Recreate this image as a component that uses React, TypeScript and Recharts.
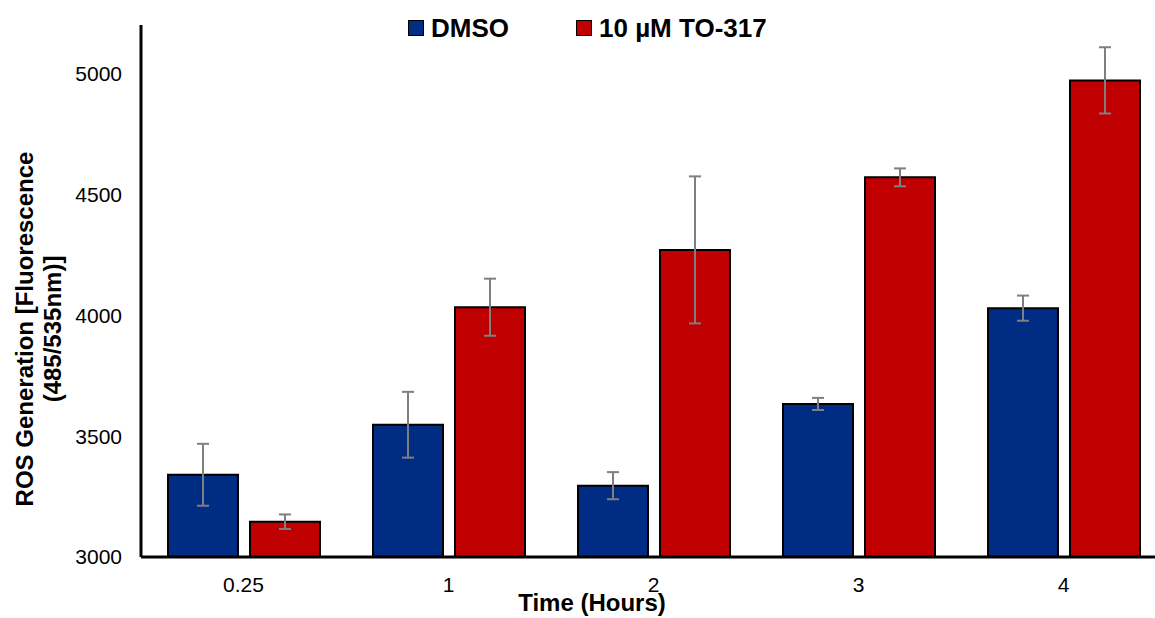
import { BarChart, Bar, XAxis, YAxis, ErrorBar } from "recharts";

const times = ["0.25", "1", "2", "3", "4"];
const dmso = [3340, 3547, 3295, 3633, 4029];
const dmsoErr = [128, 136, 56, 25, 52];
const to317 = [3146, 4033, 4270, 4570, 4971];
const to317Err = [30, 118, 304, 37, 137];
const yTicks = [3000, 3500, 4000, 4500, 5000];

const BLUE = "#002c84";
const RED = "#c00000";
const FONT = "'Liberation Sans', Arial, sans-serif";

const data = times.map((t, i) => ({
  time: t,
  dmso: dmso[i],
  dmsoErr: dmsoErr[i],
  to317: to317[i],
  to317Err: to317Err[i],
}));

function YLabel() {
  return (
    <text
      transform="translate(0,329) rotate(-90)"
      textAnchor="middle"
      fontFamily={FONT}
      fontWeight="bold"
      fontSize={24}
      fill="#000"
    >
      <tspan x={0} y={33}>ROS Generation [Fluorescence</tspan>
      <tspan x={0} y={61}>(485/535nm)]</tspan>
    </text>
  );
}

function XLabel() {
  return (
    <text x={592} y={611} textAnchor="middle" fontFamily={FONT} fontWeight="bold" fontSize={24} fill="#000">
      Time (Hours)
    </text>
  );
}

function LegendItem({ color, label, left }: { color: string; label: string; left: number }) {
  return (
    <div style={{ position: "absolute", left, top: 13, display: "flex", alignItems: "center", fontFamily: FONT, fontWeight: "bold", fontSize: 26, color: "#000", lineHeight: "30px" }}>
      <span style={{ display: "inline-block", width: 14, height: 14, background: color, border: "1px solid #000", marginRight: 7 }} />
      <span>{label}</span>
    </div>
  );
}

export default function App() {
  return (
    <div style={{ position: "fixed", left: 0, top: 0, width: 1155, height: 618, overflow: "hidden", background: "#fff" }}>
      <BarChart
        width={1170}
        height={618}
        data={data}
        margin={{ top: 25, right: 4, left: 0, bottom: 21 }}
        barGap={12}
        barSize={70}
      >
        <XAxis
          dataKey="time"
          height={40}
          axisLine={{ stroke: "#000", strokeWidth: 3 }}
          tickLine={false}
          tickSize={0}
          tickMargin={20}
          tick={{ fill: "#000", fontSize: 21, fontFamily: FONT }}
          label={{ content: () => <XLabel /> }}
        />
        <YAxis
          width={141}
          domain={[3000, 5200]}
          ticks={yTicks}
          allowDataOverflow
          axisLine={{ stroke: "#000", strokeWidth: 3 }}
          tickLine={false}
          tickSize={0}
          tickMargin={19}
          tick={{ fill: "#000", fontSize: 21, fontFamily: FONT }}
          label={{ content: () => <YLabel /> }}
        />
        <Bar dataKey="dmso" fill={BLUE} stroke="#000" strokeWidth={2} isAnimationActive={false}>
          <ErrorBar dataKey="dmsoErr" width={6} stroke="#7f7f7f" strokeWidth={2} direction="y" />
        </Bar>
        <Bar dataKey="to317" fill={RED} stroke="#000" strokeWidth={2} isAnimationActive={false}>
          <ErrorBar dataKey="to317Err" width={6} stroke="#7f7f7f" strokeWidth={2} direction="y" />
        </Bar>
      </BarChart>
      <LegendItem color={BLUE} label="DMSO" left={408} />
      <LegendItem color={RED} label="10 µM TO-317" left={576} />
    </div>
  );
}
